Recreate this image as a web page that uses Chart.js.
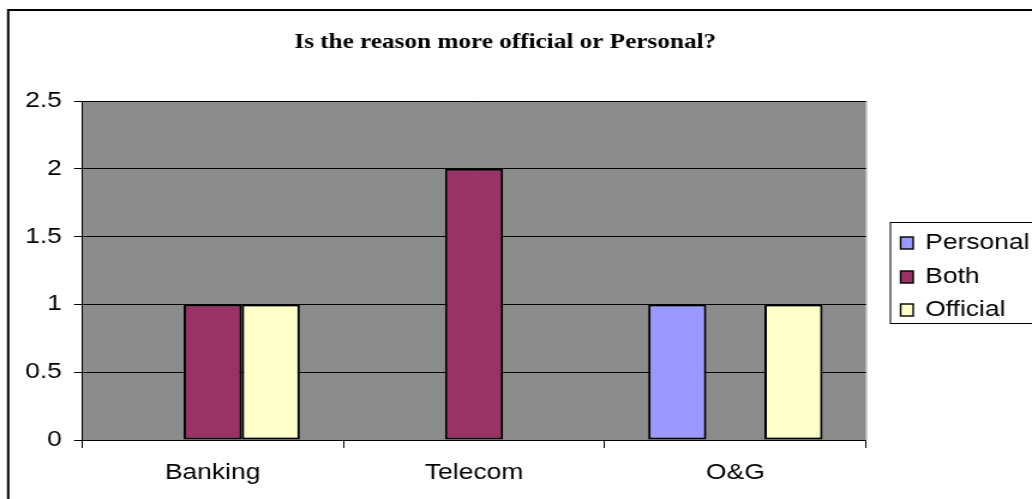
<!DOCTYPE html>
<html>
<head>
<meta charset="utf-8">
<script src="https://cdn.jsdelivr.net/npm/chart.js@4/dist/chart.umd.min.js"></script>
<style>
  html, body { margin: 0; padding: 0; background: #fff; overflow: hidden; }
  /* the chart is laid out narrower and stretched sideways, like the original sheet */
  #wrap { width: 860px; height: 499px; transform: scaleX(1.2); transform-origin: 0 0; }
</style>
</head>
<body>
<div id="wrap"><canvas id="chartReason" width="860" height="499"></canvas></div>
<script>
'use strict';

// Reason for moving: official vs personal, by sector
const TITLE = 'Is the reason more official or Personal?';
const SECTORS = ['Banking', 'Telecom', 'O&G'];
const PERSONAL = [0, 0, 1];
const BOTH = [1, 2, 0];
const OFFICIAL = [1, 0, 1];
const Y_TICKS = ['0', '0.5', '1', '1.5', '2', '2.5'];

const SERIES = [
  { label: 'Personal', data: PERSONAL, color: '#9999ff' },
  { label: 'Both', data: BOTH, color: '#993366' },
  { label: 'Official', data: OFFICIAL, color: '#ffffcc' },
];

const SANS = '"Liberation Sans", Arial, sans-serif';

// gray plot background, outer frame, title and boxed legend
const excelFrame = {
  id: 'excelFrame',
  beforeDraw(chart) {
    const { ctx, chartArea: a } = chart;
    ctx.save();
    ctx.fillStyle = '#8c8c8c';
    ctx.fillRect(a.left, a.top, a.right - a.left, a.bottom - a.top);
    ctx.strokeStyle = '#c0c0c0';
    ctx.lineWidth = 1;
    ctx.beginPath();
    ctx.moveTo(a.right + 0.5, a.top);
    ctx.lineTo(a.right + 0.5, a.bottom);
    ctx.stroke();
    ctx.restore();
  },
  afterDraw(chart) {
    const { ctx } = chart;
    ctx.save();
    // outer frame
    ctx.strokeStyle = '#000';
    ctx.lineWidth = 2;
    ctx.strokeRect(6.8, 10, 1000, 600);

    // title
    ctx.fillStyle = '#000';
    ctx.font = 'bold 21px "Liberation Serif", "Times New Roman", serif';
    ctx.textAlign = 'center';
    ctx.textBaseline = 'middle';
    ctx.fillText(TITLE, 421, 43);

    // legend box
    ctx.lineWidth = 1;
    ctx.strokeRect(742, 222.5, 200, 101);
    ctx.font = '22px ' + SANS;
    ctx.textAlign = 'left';
    const rows = [243, 277, 310];
    chart.data.datasets.forEach((ds, i) => {
      const y = rows[i];
      ctx.fillStyle = ds.backgroundColor;
      ctx.fillRect(750.5, y - 6, 10.5, 12);
      ctx.strokeStyle = '#000';
      ctx.lineWidth = 1.4;
      ctx.strokeRect(750.5, y - 6, 10.5, 12);
      ctx.fillStyle = '#000';
      ctx.fillText(ds.label, 771, y);
    });
    ctx.restore();
  }
};

new Chart(document.getElementById('chartReason'), {
  type: 'bar',
  data: {
    labels: SECTORS,
    datasets: SERIES.map(s => ({
      label: s.label,
      data: s.data,
      backgroundColor: s.color,
      borderColor: '#000',
      borderWidth: 2,
      borderSkipped: false,
      categoryPercentage: 0.667,
      barPercentage: 1,
    }))
  },
  options: {
    responsive: false,
    animation: false,
    layout: { padding: { left: 0, top: 101, right: 138.3, bottom: 0 } },
    plugins: {
      legend: { display: false },
      title: { display: false },
      tooltip: { enabled: false }
    },
    scales: {
      x: {
        afterFit(scale) { scale.height = 59; },
        grid: {
          offset: true,
          drawOnChartArea: false,
          color: '#000',
          tickLength: 8,
        },
        border: { color: '#000', width: 1 },
        ticks: {
          color: '#000',
          padding: 12,
          font: { family: SANS, size: 22 }
        }
      },
      y: {
        min: 0,
        max: 2.5,
        afterFit(scale) { scale.width = 68.3; },
        grid: { color: '#000', tickLength: 6.7 },
        border: { color: '#000', width: 1 },
        ticks: {
          stepSize: 0.5,
          color: '#000',
          padding: 10,
          callback: (v, i) => Y_TICKS[i],
          font: { family: SANS, size: 22 }
        }
      }
    }
  },
  plugins: [excelFrame]
});
</script>
</body>
</html>
